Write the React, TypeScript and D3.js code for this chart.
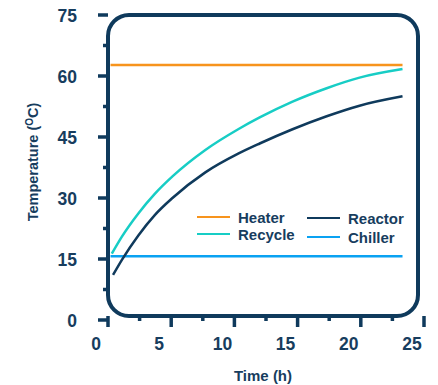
import React from "react";
import * as d3 from "d3";

const W = 438;
const H = 385;

const yTicksMajor = [0, 15, 30, 45, 60, 75];
const yTicksMinor = [7.5, 22.5, 37.5, 52.5, 67.5];
const xTicksMajor = [0, 5, 10, 15, 20, 25];
const xTicksMinor = [2.5, 7.5, 12.5, 17.5, 22.5];

const heaterT = [0.2, 23.3];
const heaterV = [62.7, 62.7];
const chillerT = [0.2, 23.3];
const chillerV = [15.7, 15.7];

const recycleT = [0.3, 1.1, 2.4, 3.7, 5.1, 7.7, 10.3, 12.0, 14.6, 17.3, 19.9, 23.3];
const recycleV = [16.3, 20.5, 26.2, 31.0, 35.3, 41.8, 46.9, 49.8, 53.7, 57.0, 59.6, 61.7];

const reactorT = [0.4, 1.1, 2.4, 3.7, 5.1, 7.7, 10.3, 12.0, 14.6, 17.3, 19.9, 23.3];
const reactorV = [11.1, 14.8, 20.8, 25.8, 30.0, 36.3, 40.9, 43.4, 46.9, 50.1, 52.7, 55.0];

const NAVY = "#0f3a5c";
const TEXT = "#173d5e";
const COLORS = {
  Heater: "#f7941d",
  Recycle: "#17cdc5",
  Reactor: "#0f3a5c",
  Chiller: "#0aa2f2",
};

export default function App() {
  const x = d3.scaleLinear().domain([0, 25]).range([108, 424]);
  const y = d3.scaleLinear().domain([0, 75]).range([320, 15]);

  const line = d3
    .line<[number, number]>()
    .x((d) => x(d[0]))
    .y((d) => y(d[1]))
    .curve(d3.curveMonotoneX);

  const series = [
    { name: "Heater", t: heaterT, v: heaterV },
    { name: "Chiller", t: chillerT, v: chillerV },
    { name: "Reactor", t: reactorT, v: reactorV },
    { name: "Recycle", t: recycleT, v: recycleV },
  ];

  const boxL = 108, boxT = 15, boxR = 418, boxB = 316, r = 21;
  const font = "'Liberation Sans', Arial, sans-serif";

  const legend = [
    { name: "Heater", lx: 197, ly: 217 },
    { name: "Recycle", lx: 197, ly: 234 },
    { name: "Reactor", lx: 307, ly: 218 },
    { name: "Chiller", lx: 307, ly: 237 },
  ];

  return (
    <svg
      width={W}
      height={H}
      style={{ position: "absolute", left: 0, top: 0, background: "#fff" }}
      fontFamily={font}
    >
      {yTicksMajor.map((v) => (
        <line key={"ym" + v} x1={98} x2={108} y1={y(v)} y2={y(v)} stroke={NAVY} strokeWidth={3.5} />
      ))}
      {yTicksMinor.map((v) => (
        <line key={"yn" + v} x1={103} x2={108} y1={y(v)} y2={y(v)} stroke={NAVY} strokeWidth={3.5} />
      ))}
      {xTicksMajor.map((t) => (
        <line key={"xm" + t} x1={x(t)} x2={x(t)} y1={boxB} y2={boxB + 11} stroke={NAVY} strokeWidth={3.5} />
      ))}
      {xTicksMinor.map((t) => (
        <line key={"xn" + t} x1={x(t)} x2={x(t)} y1={boxB} y2={boxB + 5} stroke={NAVY} strokeWidth={3.5} />
      ))}

      <rect
        x={boxL}
        y={boxT}
        width={boxR - boxL}
        height={boxB - boxT}
        rx={r}
        ry={r}
        fill="#fff"
        stroke={NAVY}
        strokeWidth={4}
      />

      {series.map((s) => (
        <path
          key={s.name}
          d={line(s.t.map((t, i) => [t, s.v[i]] as [number, number])) || ""}
          fill="none"
          stroke={(COLORS as any)[s.name]}
          strokeWidth={2.5}
        />
      ))}

      {yTicksMajor.map((v) => (
        <text
          key={"yl" + v}
          x={77}
          y={y(v) + 1}
          textAnchor="end"
          dominantBaseline="central"
          fontSize={17.5}
          fontWeight="bold"
          fill={TEXT}
        >
          {v}
        </text>
      ))}
      {xTicksMajor.map((t) => (
        <text
          key={"xl" + t}
          x={x(t) - 12}
          y={350}
          textAnchor="middle"
          fontSize={17.5}
          fontWeight="bold"
          fill={TEXT}
        >
          {t}
        </text>
      ))}

      <text x={263} y={381} textAnchor="middle" fontSize={15} fontWeight="bold" fill={TEXT}>
        Time (h)
      </text>
      <text
        transform="translate(38,162) rotate(-90)"
        textAnchor="middle"
        fontSize={14.5}
        fontWeight="bold"
        fill={TEXT}
      >
        Temperature (
        <tspan fontSize={10} dy={-5}>O</tspan>
        <tspan dy={5}>C)</tspan>
      </text>

      {legend.map((l) => (
        <g key={l.name}>
          <line x1={l.lx} x2={l.lx + 33} y1={l.ly} y2={l.ly} stroke={(COLORS as any)[l.name]} strokeWidth={2} />
          <text
            x={l.lx + 41}
            y={l.ly}
            dominantBaseline="central"
            fontSize={15}
            fontWeight="bold"
            fill={TEXT}
          >
            {l.name}
          </text>
        </g>
      ))}
    </svg>
  );
}
